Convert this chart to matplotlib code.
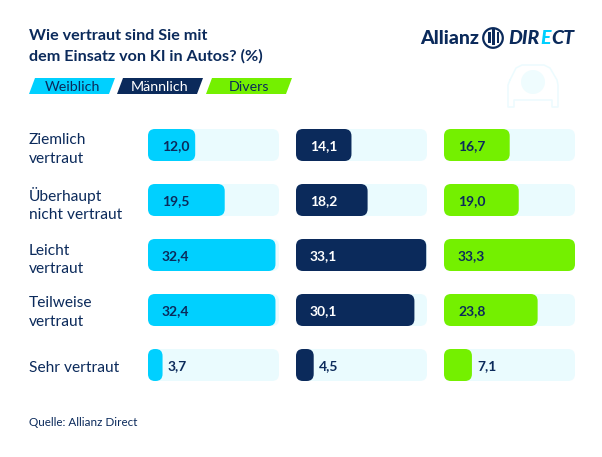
import matplotlib
matplotlib.use("Agg")
import matplotlib.pyplot as plt
from matplotlib.patches import FancyBboxPatch, Polygon, Circle, Rectangle

plt.rcParams['font.family'] = ['Lato', 'DejaVu Sans']

categories = ["Ziemlich\nvertraut", "Überhaupt\nnicht vertraut", "Leicht\nvertraut",
              "Teilweise\nvertraut", "Sehr vertraut"]
series_names = ["Weiblich", "Männlich", "Divers"]
weiblich = [12.0, 19.5, 32.4, 32.4, 3.7]
maennlich = [14.1, 18.2, 33.1, 30.1, 4.5]
divers = [16.7, 19.0, 33.3, 23.8, 7.1]

NAVY = "#0B2A5B"
CYAN = "#00D0FF"
GREEN = "#74F000"
TRACK = "#EAFBFE"
W, H = 602, 457
MAX_VAL = 33.3

fig = plt.figure(figsize=(W / 100, H / 100), dpi=100, facecolor="white")

# overlay in pixel coords for title, legend, logo
bg = fig.add_axes([0, 0, 1, 1])
bg.set_xlim(0, W)
bg.set_ylim(H, 0)
bg.axis("off")

bg.text(29, 40.5, "Wie vertraut sind Sie mit", fontsize=11.6, fontweight="bold", color=NAVY, va="baseline")
bg.text(29, 61, "dem Einsatz von KI in Autos? (%)", fontsize=11.6, fontweight="bold", color=NAVY, va="baseline")

# legend
legend_x = [29, 117, 206]
legend_colors = [CYAN, NAVY, GREEN]
legend_text = [NAVY, "white", NAVY]
for name, x0, c, tc in zip(series_names, legend_x, legend_colors, legend_text):
    bg.add_patch(Polygon([(x0, 94), (x0 + 6, 78), (x0 + 86, 78), (x0 + 80, 94)], closed=True, fc=c, ec="none"))
    bg.text(x0 + 43, 91.3, name, fontsize=10.3, color=tc, ha="center", va="baseline")

# logo
bg.text(420, 38, "Allianz", fontsize=14, fontweight="black", color=NAVY, va="center")
bg.add_patch(Circle((493, 38), 9.8, fc="none", ec=NAVY, lw=1.6))
for bx, bh in [(488, 6), (492, 9), (496.5, 6)]:
    bg.add_patch(Rectangle((bx, 38 - bh), 2.6, bh * 1.8, fc=NAVY, ec="none"))
for s, x0, c in [("DIR", 508, NAVY), ("E", 540, CYAN), ("CT", 551, NAVY)]:
    bg.text(x0, 38, s, fontsize=14, fontweight="black", style="italic", color=c, va="center")

# faint car icon
car_x = [510, 516, 522, 544, 550, 557, 558, 558, 552, 552, 514, 514, 508, 508, 510]
car_y = [80, 68, 65, 65, 68, 80, 85, 107, 107, 100, 100, 107, 107, 85, 80]
bg.plot(car_x, car_y, color="#ECFBFE", lw=1.1)
bg.add_patch(Circle((533, 82), 12, fc="#EFFCFE", ec="none"))

# row labels
row_y = [149.5, 204.5, 260, 312.5, 368]
for lab, y in zip(categories, row_y):
    bg.text(29, y, lab, fontsize=11.2, color=NAVY, va="center", linespacing=1.4)

bg.text(29, 423, "Quelle: Allianz Direct", fontsize=8.4, color=NAVY, va="center")

# bar panels, one axes per series
panel_x = [148, 296, 444]
panel_w = 131
ROW = 55
values = [weiblich, maennlich, divers]
label_colors = [NAVY, "white", NAVY]
px_x = panel_w / MAX_VAL
aspect = px_x / ROW

top = 117.5
bottom = top + ROW * 5
for vals, x0, c, lc in zip(values, panel_x, legend_colors, label_colors):
    ax = fig.add_axes([x0 / W, 1 - bottom / H, panel_w / W, (bottom - top) / H])
    ax.set_xlim(0, MAX_VAL)
    ax.set_ylim(4.5, -0.5)
    ax.axis("off")
    ax.patch.set_alpha(0)
    bar_h = 32 / ROW
    r = 7 / px_x
    for i, v in enumerate(vals):
        ax.add_patch(FancyBboxPatch((0, i - bar_h / 2), MAX_VAL, bar_h,
                                    boxstyle=f"round,pad=0,rounding_size={r}",
                                    mutation_aspect=aspect, fc=TRACK, ec="none"))
        ax.add_patch(FancyBboxPatch((0, i - bar_h / 2), v, bar_h,
                                    boxstyle=f"round,pad=0,rounding_size={min(r, v / 2)}",
                                    mutation_aspect=aspect, fc=c, ec="none"))
        if v < 10:
            ax.text(v + 5 / px_x, i + 0.02, f"{v:.1f}".replace(".", ","), fontsize=10,
                    fontweight="bold", color=NAVY, va="center")
        else:
            ax.text(14 / px_x, i + 0.02, f"{v:.1f}".replace(".", ","), fontsize=10,
                    fontweight="bold", color=lc, va="center")

fig.savefig("out.png", dpi=100)
